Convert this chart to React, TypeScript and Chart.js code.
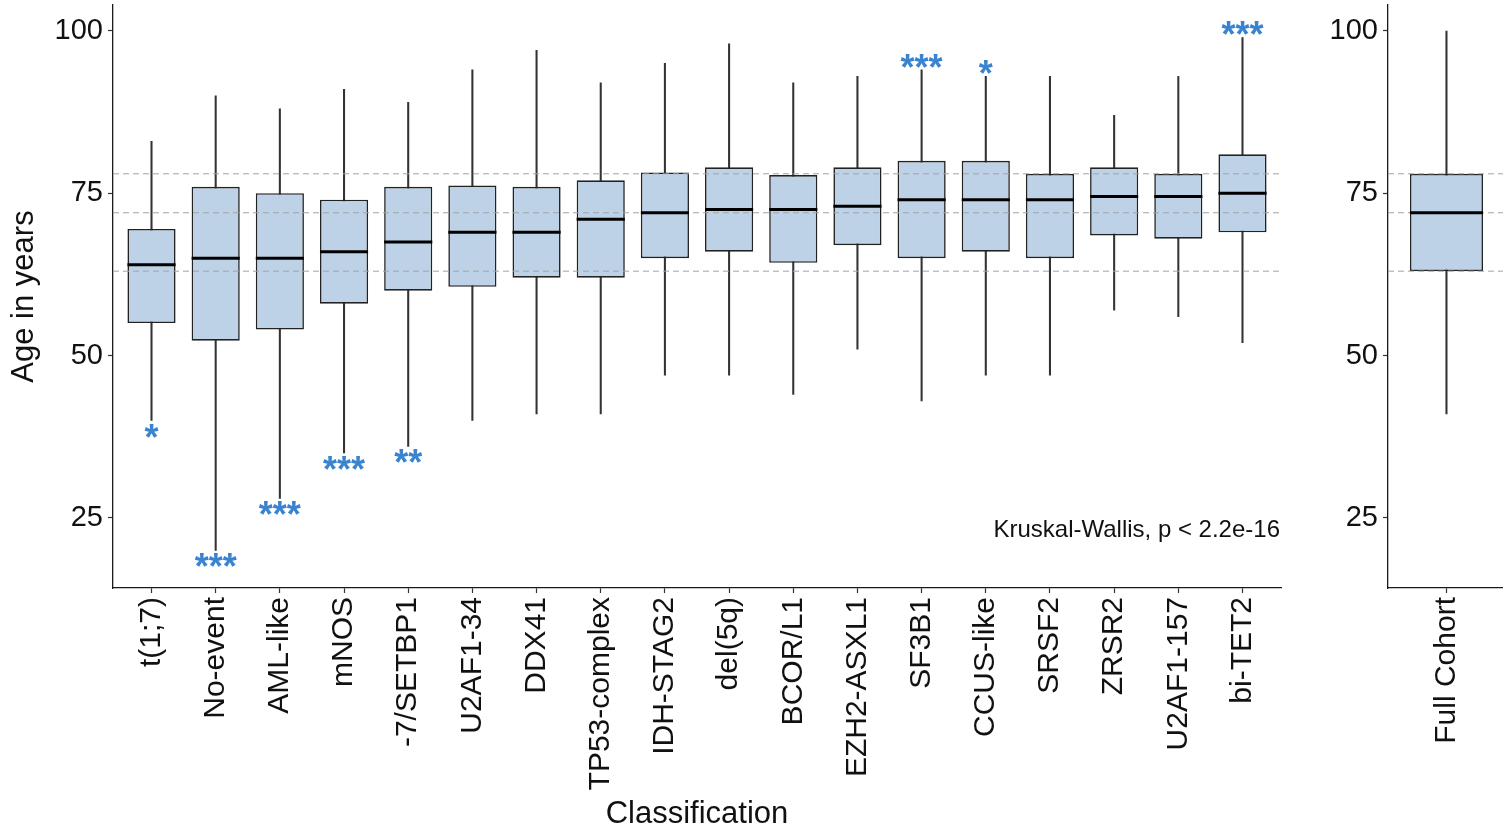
import React, { useEffect, useRef } from "react";
import { Chart, registerables } from "chart.js";

Chart.register(...registerables);

const FONT = "'Liberation Sans', Arial, Helvetica, sans-serif";

const categories = [
  "t(1;7)", "No-event", "AML-like", "mNOS", "-7/SETBP1", "U2AF1-34", "DDX41",
  "TP53-complex", "IDH-STAG2", "del(5q)", "BCOR/L1", "EZH2-ASXL1", "SF3B1",
  "CCUS-like", "SRSF2", "ZRSR2", "U2AF1-157", "bi-TET2",
];
const whiskerLow = [40, 20, 28, 35, 36, 40, 41, 41, 47, 47, 44, 51, 43, 47, 47, 57, 56, 52];
const lowerQuartile = [55, 52.3, 54, 58, 60, 60.6, 62, 62, 65, 66, 64.3, 67, 65, 66, 65, 68.5, 68, 69];
const medianAge = [64, 65, 65, 66, 67.5, 69, 69, 71, 72, 72.5, 72.5, 73, 74, 74, 74, 74.5, 74.5, 75];
const upperQuartile = [69.5, 76, 75, 74, 76, 76.2, 76, 77, 78.2, 79, 77.8, 79, 80, 80, 78, 79, 78, 81];
const whiskerHigh = [83, 90, 88, 91, 89, 94, 97, 92, 95, 98, 92, 93, 94, 93, 93, 87, 93, 99];
const significance = ["*", "***", "***", "***", "**", "", "", "", "", "", "", "", "***", "*", "", "", "", "***"];
const significanceSide = ["below", "below", "below", "below", "below", "", "", "", "", "", "", "", "above", "above", "", "", "", "above"];

const cohortCategories = ["Full Cohort"];
const cohortLow = [41];
const cohortQ1 = [63];
const cohortMedian = [72];
const cohortQ3 = [78];
const cohortHigh = [100];

const yTicks = [25, 50, 75, 100];
const yMin = 14.2;
const yMax = 104;
const kruskalLabel = "Kruskal-Wallis, p < 2.2e-16";
const kruskalY = 23.4;

const BOX_FILL = "#bdd2e6";
const BOX_LINE = "#222222";
const STAR_COLOR = "#3a84cf";

type PanelSpec = {
  cats: string[];
  low: number[];
  q1: number[];
  med: number[];
  q3: number[];
  high: number[];
  xMax: number;
  yAxisWidth: number;
  padRight: number;
  yTitle: boolean;
  xTitle: boolean;
  stars: boolean;
  kruskal: boolean;
};

function makeChart(canvas: HTMLCanvasElement, p: PanelSpec) {
  const xMin = 0.4;
  const refLines = [cohortQ1[0], cohortMedian[0], cohortQ3[0]];
  const lineSets = refLines.map((v) => ({
    type: "line" as const,
    data: [
      { x: xMin, y: v },
      { x: p.xMax, y: v },
    ],
    borderColor: "#a3a3a3",
    borderWidth: 1,
    borderDash: [6, 4],
    pointRadius: 0,
    fill: false,
    order: 0,
  }));

  const boxPlugin = {
    id: "boxExtras",
    afterDatasetsDraw(chart: any) {
      const ctx = chart.ctx;
      const xS = chart.scales.x;
      const yS = chart.scales.y;
      const meta = chart.getDatasetMeta(3);
      ctx.save();
      // medians
      ctx.strokeStyle = "#000";
      ctx.lineWidth = 3;
      meta.data.forEach((el: any, i: number) => {
        const y = yS.getPixelForValue(p.med[i]);
        ctx.beginPath();
        ctx.moveTo(el.x - el.width / 2, y);
        ctx.lineTo(el.x + el.width / 2, y);
        ctx.stroke();
      });
      // significance stars
      if (p.stars) {
        ctx.font = `bold 36px ${FONT}`;
        ctx.fillStyle = STAR_COLOR;
        ctx.textAlign = "center";
        ctx.textBaseline = "alphabetic";
        significance.forEach((s, i) => {
          if (!s) return;
          const m = ctx.measureText(s);
          const glyphMid = (m.actualBoundingBoxDescent - m.actualBoundingBoxAscent) / 2;
          const target =
            significanceSide[i] === "below"
              ? yS.getPixelForValue(p.low[i]) + 10
              : yS.getPixelForValue(p.high[i]) - 9;
          ctx.fillText(s, xS.getPixelForValue(i + 1), target - glyphMid);
        });
      }
      if (p.kruskal) {
        ctx.font = `24px ${FONT}`;
        ctx.fillStyle = "#111";
        ctx.textAlign = "right";
        ctx.textBaseline = "alphabetic";
        ctx.fillText(kruskalLabel, xS.getPixelForValue(p.xMax) - 1, yS.getPixelForValue(kruskalY) + 8.5);
      }
      ctx.restore();
    },
  };

  const boxRatio = p.cats.length > 1 ? 0.75 : 0.75 / (p.xMax - xMin);

  return new Chart(canvas, {
    type: "bar",
    data: {
      datasets: [
        ...lineSets,
        {
          type: "bar",
          data: p.cats.map((_, i) => ({ x: i + 1, y: [p.q1[i], p.q3[i]] })),
          backgroundColor: BOX_FILL,
          borderColor: BOX_LINE,
          borderWidth: 1.6,
          borderSkipped: false,
          grouped: false,
          categoryPercentage: 1,
          barPercentage: boxRatio,
          order: 1,
        },
        {
          type: "bar",
          data: p.cats.map((_, i) => ({ x: i + 1, y: [p.low[i], p.high[i]] })),
          backgroundColor: "#333",
          borderWidth: 0,
          grouped: false,
          barThickness: 1.4,
          order: 2,
        },
      ] as any,
    },
    options: {
      responsive: false,
      animation: false,
      events: [],
      layout: { padding: { top: 5, left: 0, right: p.padRight, bottom: 0 } },
      plugins: { legend: { display: false }, tooltip: { enabled: false } },
      scales: {
        x: {
          type: "linear",
          min: xMin,
          max: p.xMax,
          offset: false,
          afterBuildTicks: (s: any) => {
            s.ticks = p.cats.map((_, i) => ({ value: i + 1 }));
          },
          afterFit: (s: any) => {
            s.height = 243;
            s.paddingLeft = 0;
            s.paddingRight = 0;
          },
          ticks: {
            autoSkip: false,
            minRotation: 90,
            maxRotation: 90,
            padding: 4,
            color: "#111",
            font: { size: 30, family: FONT },
            callback: (v: any) => p.cats[Math.round(Number(v)) - 1] ?? "",
          },
          grid: {
            display: true,
            offset: false,
            drawOnChartArea: false,
            drawTicks: true,
            tickLength: 5,
            tickColor: "#333",
            tickWidth: 1.2,
          },
          border: { display: true, color: "#1a1a1a", width: 1.3 },
          title: {
            display: p.xTitle,
            text: "Classification",
            color: "#111",
            font: { size: 31, family: FONT, lineHeight: 1 },
            padding: { top: 0, bottom: 1 },
          },
        },
        y: {
          type: "linear",
          min: yMin,
          max: yMax,
          afterBuildTicks: (s: any) => {
            s.ticks = yTicks.map((v) => ({ value: v }));
          },
          afterFit: (s: any) => {
            s.width = p.yAxisWidth;
            s.paddingTop = 0;
            s.paddingBottom = 0;
          },
          ticks: { color: "#111", padding: 5, font: { size: 29, family: FONT } },
          grid: {
            display: true,
            offset: false,
            drawOnChartArea: false,
            drawTicks: true,
            tickLength: 5,
            tickColor: "#333",
            tickWidth: 1.2,
          },
          border: { display: true, color: "#1a1a1a", width: 1.3 },
          title: {
            display: p.yTitle,
            text: "Age in years",
            color: "#111",
            font: { size: 31, family: FONT, lineHeight: 1.2 },
            padding: { top: 6, bottom: 0 },
          },
        },
      },
    } as any,
    plugins: [boxPlugin],
  });
}

export default function App() {
  const mainRef = useRef<HTMLCanvasElement>(null);
  const sideRef = useRef<HTMLCanvasElement>(null);

  useEffect(() => {
    Chart.defaults.font.family = FONT;
    const main = makeChart(mainRef.current!, {
      cats: categories,
      low: whiskerLow,
      q1: lowerQuartile,
      med: medianAge,
      q3: upperQuartile,
      high: whiskerHigh,
      xMax: 18.6,
      yAxisWidth: 113,
      padRight: 19,
      yTitle: true,
      xTitle: true,
      stars: true,
      kruskal: true,
    });
    const side = makeChart(sideRef.current!, {
      cats: cohortCategories,
      low: cohortLow,
      q1: cohortQ1,
      med: cohortMedian,
      q3: cohortQ3,
      high: cohortHigh,
      xMax: 1.58,
      yAxisWidth: 88,
      padRight: 0,
      yTitle: false,
      xTitle: false,
      stars: false,
      kruskal: false,
    });
    return () => {
      main.destroy();
      side.destroy();
    };
  }, []);

  return (
    <div style={{ position: "absolute", left: 0, top: 0, width: 1503, height: 831, background: "#fff", overflow: "hidden" }}>
      <canvas ref={mainRef} width={1300} height={831} style={{ position: "absolute", left: 0, top: 0 }} />
      <canvas ref={sideRef} width={203} height={831} style={{ position: "absolute", left: 1300, top: 0 }} />
    </div>
  );
}
